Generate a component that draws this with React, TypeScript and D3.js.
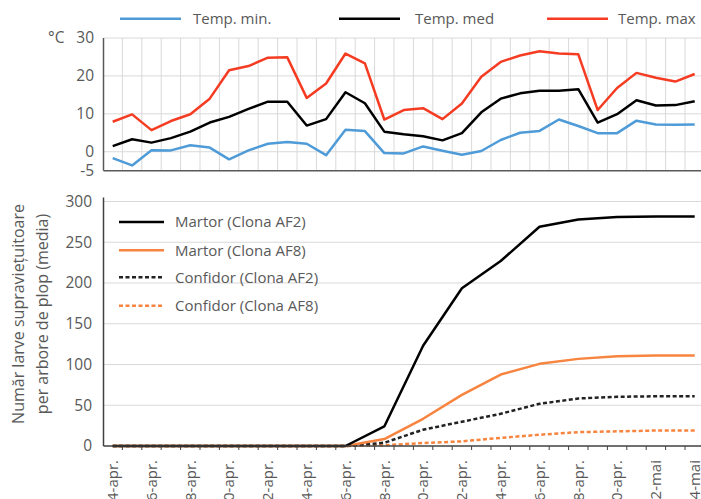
import React from "react";
import * as d3 from "d3";

// ---------- data ----------
const days = [
  "4-apr.", "5-apr.", "6-apr.", "7-apr.", "8-apr.", "9-apr.", "10-apr.", "11-apr.",
  "12-apr.", "13-apr.", "14-apr.", "15-apr.", "16-apr.", "17-apr.", "18-apr.", "19-apr.",
  "20-apr.", "21-apr.", "22-apr.", "23-apr.", "24-apr.", "25-apr.", "26-apr.", "27-apr.",
  "28-apr.", "29-apr.", "30-apr.", "1-mai", "2-mai", "3-mai", "4-mai",
];
const tickLabels = [
  "4-apr.", "6-apr.", "8-apr.", "10-apr.", "12-apr.", "14-apr.", "16-apr.", "18-apr.",
  "20-apr.", "22-apr.", "24-apr.", "26-apr.", "28-apr.", "30-apr.", "2-mai", "4-mai",
];

const tempMin = [
  -1.7, -3.6, 0.4, 0.35, 1.7, 1.1, -2.0, 0.35, 2.1, 2.6, 2.1, -0.9, 5.8, 5.45, -0.35, -0.45,
  1.4, 0.25, -0.8, 0.2, 3.1, 5.0, 5.5, 8.5, 6.8, 4.9, 4.9, 8.2, 7.2, 7.1, 7.2,
];
const tempMed = [
  1.5, 3.3, 2.4, 3.6, 5.3, 7.7, 9.2, 11.3, 13.2, 13.2, 6.9, 8.6, 15.7, 12.8, 5.3, 4.6,
  4.1, 3.0, 4.9, 10.4, 14.0, 15.4, 16.1, 16.1, 16.5, 7.7, 9.9, 13.6, 12.2, 12.3, 13.3,
];
const tempMax = [
  7.9, 9.85, 5.7, 8.1, 9.9, 14.0, 21.5, 22.6, 24.8, 24.9, 14.2, 18.0, 25.9, 23.3, 8.5, 11.0,
  11.5, 8.6, 12.7, 19.8, 23.7, 25.4, 26.5, 25.9, 25.7, 11.0, 16.8, 20.8, 19.5, 18.5, 20.5,
];

const sampleDates = tickLabels;
const martorAF2 = [0, 0, 0, 0, 0, 0, 0, 24, 123, 193.5, 227, 269, 278, 281, 281.5, 281.5];
const martorAF8 = [0, 0, 0, 0, 0, 0, 0, 8.5, 33.4, 62.8, 87.7, 100.8, 106.9, 110.2, 111, 111];
const confidorAF2 = [0, 0, 0, 0, 0, 0, 0, 4, 20, 29.8, 39.5, 51.8, 58.3, 60.4, 61, 61];
const confidorAF8 = [0, 0, 0, 0, 0, 0, 0, 1, 3.6, 5.7, 10, 13.8, 17, 18, 19, 19];

const tempTicks = [30, 20, 10, 0, -5];
const larvaeTicks = [0, 50, 100, 150, 200, 250, 300];

// ---------- styles ----------
const FONT = "'Open Sans', sans-serif";
const TXT = "#595959";
const GRID = "#d9d9d9";
const AXIS = "#595959";
const BLUE = "#4e9bd8";
const RED = "#f53c22";
const ORANGE = "#f7843f";
const DASH = "4,2.5";

export default function App() {
  const W = 701;
  const H = 499;
  const axisX = 103.5;

  const x = d3.scalePoint<string>().domain(days).range([112.7, 694.7]);
  const step = x.step();
  const boundaries = days.slice(1).map((d) => (x(d) as number) - step / 2);

  const yT = d3.scaleLinear().domain([-5, 30]).range([170.7, 38]);
  const yB = d3.scaleLinear().domain([0, 300]).range([446, 201.5]);

  const lineT = (vals: number[]) =>
    d3.line<number>().x((_, i) => x(days[i]) as number).y((v) => yT(v))(vals) as string;
  const lineB = (vals: number[]) =>
    d3.line<number>().x((_, i) => x(sampleDates[i]) as number).y((v) => yB(v))(vals) as string;

  const topSeries = [
    { name: "Temp. min.", vals: tempMin, color: BLUE, lx: 120, tx: 193 },
    { name: "Temp. med", vals: tempMed, color: "#000", lx: 339, tx: 415 },
    { name: "Temp. max", vals: tempMax, color: RED, lx: 547, tx: 618 },
  ];
  const botSeries = [
    { name: "Martor (Clona AF2)", vals: martorAF2, color: "#000", dash: null as string | null },
    { name: "Martor (Clona AF8)", vals: martorAF8, color: ORANGE, dash: null },
    { name: "Confidor (Clona AF2)", vals: confidorAF2, color: "#222", dash: DASH },
    { name: "Confidor (Clona AF8)", vals: confidorAF8, color: ORANGE, dash: DASH },
  ];
  const legendY = [222, 250.3, 277.3, 305.7];
  const drawOrder = [3, 2, 1, 0];

  return (
    <svg
      width={W}
      height={H}
      viewBox={`0 0 ${W} ${H}`}
      style={{ position: "absolute", left: 0, top: 0, background: "#fff" }}
      fontFamily={FONT}
    >
      <rect x={0} y={0} width={W} height={H} fill="#fff" />

      {/* ---------- top legend ---------- */}
      {topSeries.map((s) => (
        <g key={s.name}>
          <line x1={s.lx} x2={s.lx + 61} y1={18.7} y2={18.7} stroke={s.color} strokeWidth={2.5} />
          <text x={s.tx} y={24} fontSize={15} fill={TXT}>
            {s.name}
          </text>
        </g>
      ))}

      {/* ---------- top panel ---------- */}
      {[0, 10, 20, 30].map((t) => (
        <line key={t} x1={axisX} x2={W} y1={yT(t)} y2={yT(t)} stroke={GRID} strokeWidth={1} />
      ))}
      {boundaries.map((b, i) => (
        <line key={i} x1={b} x2={b} y1={yT(30)} y2={yT(-5)} stroke={GRID} strokeWidth={1} />
      ))}
      <line x1={axisX} x2={axisX} y1={yT(30)} y2={yT(-5)} stroke={AXIS} strokeWidth={1.5} />
      <line x1={axisX} x2={W} y1={yT(-5)} y2={yT(-5)} stroke={AXIS} strokeWidth={1.5} />
      {tempTicks.map((t) => (
        <text key={t} x={94} y={yT(t)} dy="0.35em" textAnchor="end" fontSize={15.5} fill={TXT}>
          {t}
        </text>
      ))}
      <text x={48} y={38} dy="0.35em" fontSize={15.5} fill={TXT}>
        °C
      </text>
      {topSeries.map((s) => (
        <path key={s.name} d={lineT(s.vals)} fill="none" stroke={s.color} strokeWidth={2.5} strokeLinejoin="round" />
      ))}

      {/* ---------- bottom panel ---------- */}
      {larvaeTicks
        .filter((t) => t > 0)
        .map((t) => (
          <line key={t} x1={axisX} x2={W} y1={yB(t)} y2={yB(t)} stroke={GRID} strokeWidth={1} />
        ))}
      {larvaeTicks.map((t) => (
        <text key={t} x={92} y={yB(t)} dy="0.35em" textAnchor="end" fontSize={15.5} fill={TXT}>
          {t}
        </text>
      ))}
      <g transform={`translate(30,314) rotate(-90)`}>
        <text x={0} y={-12} dy="0.35em" textAnchor="middle" fontSize={16} fill={TXT}>
          Număr larve supraviețuitoare
        </text>
        <text x={0} y={12} dy="0.35em" textAnchor="middle" fontSize={16} fill={TXT}>
          per arbore de plop (media)
        </text>
      </g>

      {/* legend */}
      {botSeries.map((s, i) => (
        <g key={s.name}>
          <line
            x1={119}
            x2={164}
            y1={legendY[i]}
            y2={legendY[i]}
            stroke={s.color}
            strokeWidth={2.5}
            strokeDasharray={s.dash ?? undefined}
          />
          <text x={175} y={legendY[i]} dy="0.35em" fontSize={15} fill={TXT}>
            {s.name}
          </text>
        </g>
      ))}

      {drawOrder.map((k) => {
        const s = botSeries[k];
        return (
          <path
            key={s.name}
            d={lineB(s.vals)}
            fill="none"
            stroke={s.color}
            strokeWidth={2.5}
            strokeDasharray={s.dash ?? undefined}
            strokeLinejoin="round"
          />
        );
      })}

      <line x1={axisX} x2={axisX} y1={yB(300) - 4} y2={yB(0)} stroke="#404040" strokeWidth={1.5} />
      <line x1={axisX} x2={W} y1={yB(0)} y2={yB(0)} stroke="#404040" strokeWidth={1.5} />
      {boundaries.map((b, i) => (
        <line key={i} x1={b} x2={b} y1={yB(0)} y2={yB(0) + 4} stroke="#404040" strokeWidth={1} />
      ))}
      {tickLabels.map((l) => (
        <text
          key={l}
          transform={`translate(${x(l)},460) rotate(-90)`}
          dy="0.35em"
          textAnchor="end"
          fontSize={15}
          fill={TXT}
        >
          {l}
        </text>
      ))}
    </svg>
  );
}
